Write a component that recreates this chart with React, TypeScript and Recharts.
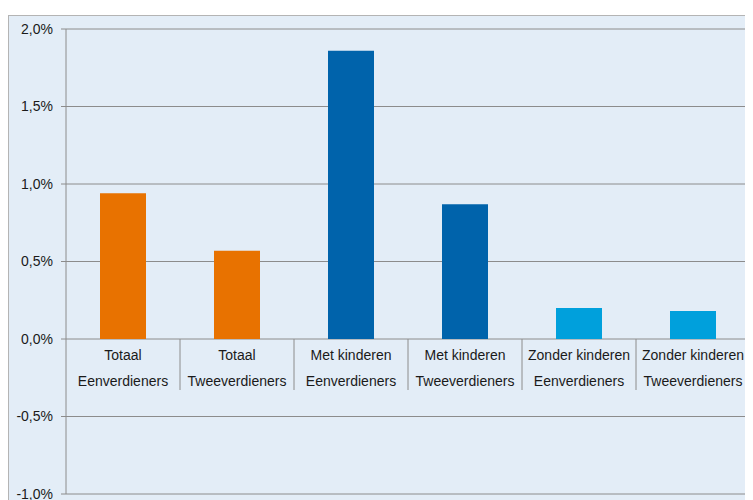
import { BarChart, Bar, XAxis, YAxis, CartesianGrid, Cell } from 'recharts'

const groups = ['Totaal', 'Totaal', 'Met kinderen', 'Met kinderen', 'Zonder kinderen', 'Zonder kinderen']
const earners = ['Eenverdieners', 'Tweeverdieners', 'Eenverdieners', 'Tweeverdieners', 'Eenverdieners', 'Tweeverdieners']
const values = [0.94, 0.57, 1.86, 0.87, 0.2, 0.18]
const yTicks = [-1, -0.5, 0, 0.5, 1, 1.5, 2]

const barColors = ['#e87200', '#e87200', '#0063ab', '#0063ab', '#00a0dc', '#00a0dc']

const data = groups.map((g, i) => ({ name: `${g}|${earners[i]}`, value: values[i] }))

const W = 743
const H = 488
const M_TOP = 13
const M_RIGHT = 2
const Y_W = 57
const X_H = 10
const PLOT_W = W - Y_W - M_RIGHT
const PLOT_H = H - M_TOP - X_H
const Y_MIN = -1
const Y_MAX = 2
const ZERO_Y = M_TOP + (PLOT_H * Y_MAX) / (Y_MAX - Y_MIN)
const BAND = PLOT_W / groups.length

const fmt = (v: number) => `${v.toFixed(1).replace('.', ',')}%`

function CatTick(props: any) {
  const { x, payload } = props
  const [a, b] = String(payload.value).split('|')
  return (
    <g>
      <text x={x} y={ZERO_Y + 21} textAnchor="middle" fontSize={14} fill="#1a1a1a">
        {a}
      </text>
      <text x={x} y={ZERO_Y + 47} textAnchor="middle" fontSize={14} fill="#1a1a1a">
        {b}
      </text>
      <line x1={x + BAND / 2} x2={x + BAND / 2} y1={ZERO_Y} y2={ZERO_Y + 51} stroke="#8c8c8c" />
    </g>
  )
}

export default function App() {
  return (
    <div
      style={{
        marginTop: 7,
        width: 752,
        height: 490,
        boxSizing: 'border-box',
        border: '1px solid #b4b4b4',
        background: '#e3edf7',
        fontFamily: '"Liberation Sans", Arial, sans-serif',
      }}
    >
      <style>{'html,body{overflow:hidden}'}</style>
      <BarChart width={W} height={H} data={data} margin={{ top: M_TOP, right: M_RIGHT, bottom: 0, left: 0 }}>
        <CartesianGrid vertical={false} stroke="#8c8c8c" />
        <XAxis dataKey="name" height={X_H} axisLine={false} tickLine={false} interval={0} tick={<CatTick />} />
        <YAxis
          width={Y_W}
          domain={[Y_MIN, Y_MAX]}
          ticks={yTicks}
          tickFormatter={fmt}
          stroke="#8c8c8c"
          tickSize={5}
          tickMargin={8}
          tick={{ fill: '#1a1a1a', fontSize: 14 }}
          allowDataOverflow
        />
        <Bar dataKey="value" barSize={46} isAnimationActive={false}>
          {data.map((d, i) => (
            <Cell key={d.name + i} fill={barColors[i]} />
          ))}
        </Bar>
      </BarChart>
    </div>
  )
}
